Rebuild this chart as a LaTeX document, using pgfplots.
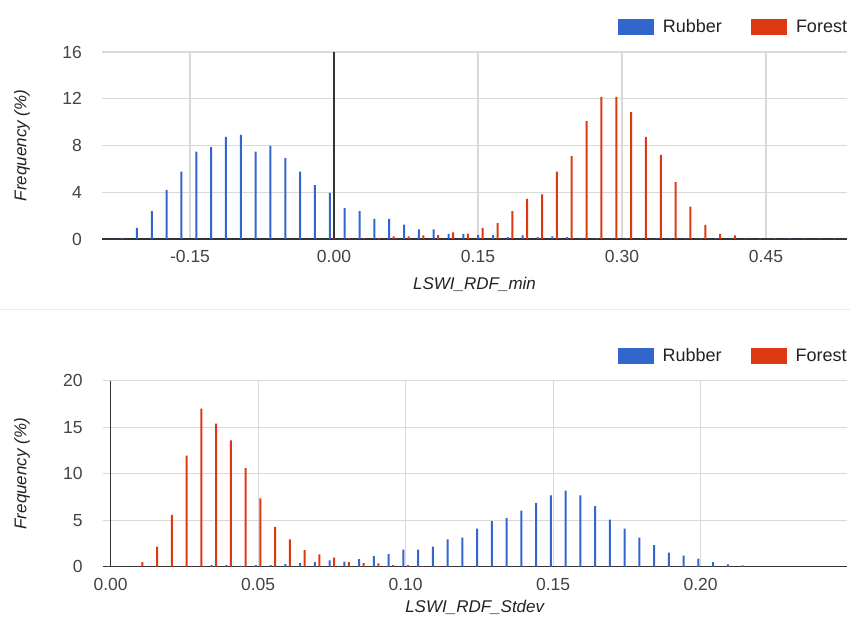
\documentclass[border=0pt]{standalone}
\usepackage{pgfplots}
\pgfplotsset{compat=1.18}
\usepackage{fontspec}
\setmainfont{Liberation Sans}
\definecolor{rubber}{HTML}{3366CC}
\definecolor{forest}{HTML}{DC3912}
\definecolor{gridc}{HTML}{D9D9D9}
\definecolor{zeroc}{HTML}{333333}
\definecolor{tickc}{HTML}{444444}
\definecolor{titlec}{HTML}{222222}
\definecolor{sepc}{HTML}{EBEBEB}

\pgfplotsset{
  histo/.style={
    scale only axis,
    anchor=south west,
    enlargelimits=false,
    axis line style={draw=none},
    tick style={draw=none},
    major tick length=0pt,
    grid=major,
    major grid style={gridc, line width=1.3pt},
    ybar=2.5pt, bar width=2pt,
    ticklabel style={font=\fontsize{17.5}{20}\selectfont, text=tickc, inner sep=0pt},
    xticklabel style={anchor=north, yshift=-11pt},
    yticklabel style={anchor=east, xshift=-20pt},
    label style={font=\fontsize{17}{20}\selectfont\itshape, text=titlec},
    extra x ticks={0}, extra y ticks={0},
    extra x tick labels={}, extra y tick labels={},
    extra tick style={grid=major, major grid style={zeroc, line width=1.3pt}},
    legend columns=2,
    legend style={at={(axis description cs:1,1)}, anchor=east, yshift=25pt,
      draw=none, fill=none, inner sep=0pt, outer sep=0pt,
      font=\fontsize{18}{20}\selectfont, text=titlec,
      nodes={inner sep=0pt},
      /tikz/every odd column/.append style={column sep=9pt},
      /tikz/every even column/.append style={column sep=29pt}},
  },
  rub/.style={fill=rubber, draw=none,
    legend image code/.code={\fill[rubber] (0pt,-8pt) rectangle (36pt,8pt);}},
  for/.style={fill=forest, draw=none,
    legend image code/.code={\fill[forest] (0pt,-8pt) rectangle (36pt,8pt);}},
}

\pgfplotstableread{
x y
-0.21844 0.10
-0.20298 0.95
-0.18753 2.38
-0.17207 4.21
-0.15661 5.76
-0.14115 7.48
-0.12569 7.85
-0.11024 8.74
-0.09478 8.91
-0.07932 7.48
-0.06386 7.97
-0.04840 6.93
-0.03295 5.76
-0.01749 4.61
-0.00203 3.95
0.01343 2.64
0.02889 2.38
0.04434 1.72
0.05980 1.72
0.07526 1.23
0.09072 0.83
0.10618 0.83
0.12163 0.43
0.13709 0.43
0.15255 0.34
0.16801 0.34
0.18347 0.17
0.19892 0.30
0.21438 0.17
0.22984 0.23
0.24530 0.17
0.26076 0.10
0.27621 0.06
0.29167 0.05
0.30713 0.05
0.32259 0.05
0.33805 0.05
0.35350 0.05
0.36896 0.05
0.38442 0.05
0.39988 0.05
0.41534 0.05
0.43079 0.05
0.44625 0.05
0.46171 0.05
0.47717 0.05
0.49263 0.05
0.50809 0.05
0.52355 0.05
}\minrubber

\pgfplotstableread{
x y
-0.00203 0.05
0.01343 0.05
0.02889 0.05
0.04434 0.10
0.05980 0.23
0.07526 0.23
0.09072 0.30
0.10618 0.34
0.12163 0.57
0.13709 0.46
0.15255 0.95
0.16801 1.35
0.18347 2.38
0.19892 3.44
0.21438 3.81
0.22984 5.76
0.24530 7.08
0.26076 10.09
0.27621 12.15
0.29167 12.15
0.30713 10.86
0.32259 8.74
0.33805 7.19
0.35350 4.87
0.36896 2.78
0.38442 1.20
0.39988 0.43
0.41534 0.30
}\minforest

\pgfplotstableread{
x y
0.000 0.07
0.035 0.18
0.040 0.18
0.045 0.10
0.050 0.18
0.055 0.18
0.060 0.29
0.065 0.39
0.070 0.50
0.075 0.68
0.080 0.54
0.085 0.82
0.090 1.15
0.095 1.36
0.100 1.83
0.105 1.83
0.110 2.15
0.115 2.94
0.120 3.12
0.125 4.09
0.130 4.91
0.135 5.23
0.140 6.02
0.145 6.85
0.150 7.67
0.155 8.17
0.160 7.67
0.165 6.52
0.170 5.05
0.175 4.09
0.180 3.12
0.185 2.33
0.190 1.51
0.195 1.18
0.200 0.86
0.205 0.50
0.210 0.25
0.215 0.14
}\sdrubber

\pgfplotstableread{
x y
0.010 0.50
0.015 2.15
0.020 5.56
0.025 11.94
0.030 16.99
0.035 15.38
0.040 13.58
0.045 10.61
0.050 7.35
0.055 4.27
0.060 2.94
0.065 1.79
0.070 1.33
0.075 0.97
0.080 0.50
0.085 0.39
0.090 0.36
0.095 0.18
0.100 0.18
0.105 0.05
0.110 0.07
}\sdforest

\begin{document}
\begin{tikzpicture}
\fill[white] (0pt,0pt) rectangle (850pt,616pt);
\draw[sepc, line width=1pt] (0pt,306pt) -- (850pt,306pt);

\begin{axis}[histo,
  at={(102pt,377pt)}, width=745pt, height=187pt,
  xmin=-0.2417, xmax=0.5344, ymin=0, ymax=16,
  xtick={-0.15,0,0.15,0.30,0.45},
  xticklabels={-0.15,0.00,0.15,0.30,0.45},
  ytick={0,4,8,12,16}, yticklabels={0,4,8,12,16},
  xlabel={LSWI\_RDF\_min}, ylabel={Frequency (\%)},
  xlabel style={at={(axis description cs:0.5,-0.2727)}, anchor=base},
  ylabel style={at={(axis description cs:-0.1074,0.5)}, anchor=center},
]
\addplot[rub] table[x=x,y=y] {\minrubber};
\addplot[for] table[x=x,y=y] {\minforest};
\legend{Rubber,Forest}
\end{axis}

\begin{axis}[histo,
  at={(102.7pt,49.3pt)}, width=744pt, height=186pt,
  xmin=-0.0027, xmax=0.2495, ymin=0, ymax=20,
  xtick={0,0.05,0.10,0.15,0.20},
  xticklabels={0.00,0.05,0.10,0.15,0.20},
  ytick={0,5,10,15,20}, yticklabels={0,5,10,15,20},
  xlabel={LSWI\_RDF\_Stdev}, ylabel={Frequency (\%)},
  xlabel style={at={(axis description cs:0.5,-0.245)}, anchor=base},
  ylabel style={at={(axis description cs:-0.1085,0.5)}, anchor=center},
]
\addplot[rub] table[x=x,y=y] {\sdrubber};
\addplot[for] table[x=x,y=y] {\sdforest};
\legend{Rubber,Forest}
\end{axis}

\pgfresetboundingbox
\path[use as bounding box] (0pt,0pt) rectangle (850pt,616pt);
\end{tikzpicture}
\end{document}
